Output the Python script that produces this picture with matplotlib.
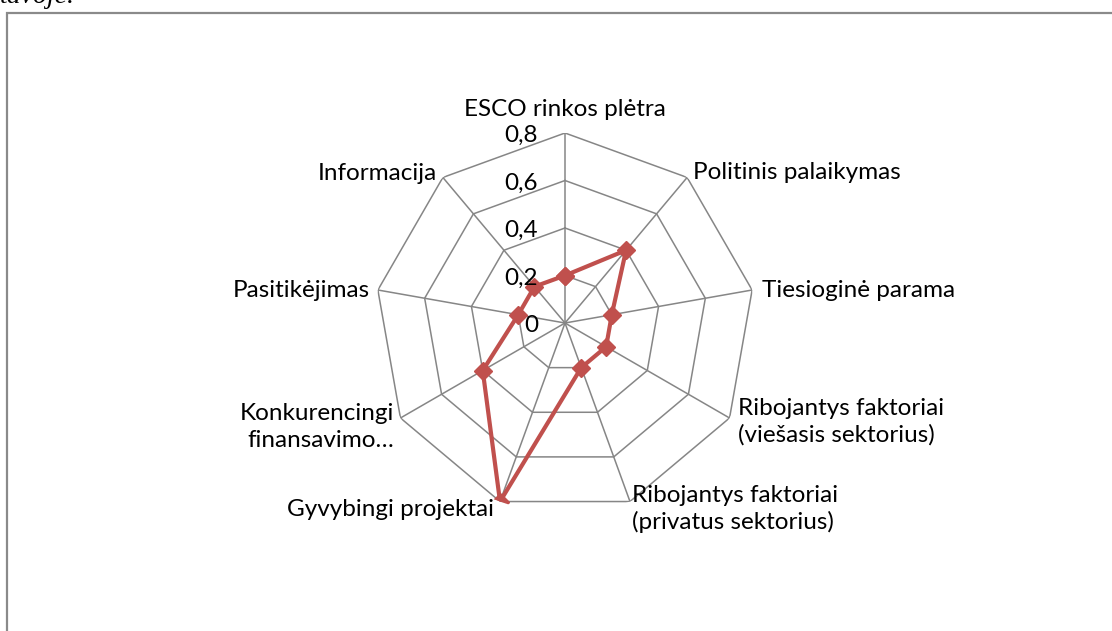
import numpy as np
import matplotlib
matplotlib.use("Agg")
import matplotlib.pyplot as plt
from matplotlib.patches import Rectangle

categories = ["ESCO rinkos plėtra", "Politinis palaikymas", "Tiesioginė parama",
              "Ribojantys faktoriai\n(viešasis sektorius)",
              "Ribojantys faktoriai\n(privatus sektorius)",
              "Gyvybingi projektai", "Konkurencingi\nfinansavimo…",
              "Pasitikėjimas", "Informacija"]
values = [0.2, 0.4, 0.2, 0.2, 0.2, 0.8, 0.4, 0.2, 0.2]
rticks = [0, 0.2, 0.4, 0.6, 0.8]
rtick_labels = ["0", "0,2", "0,4", "0,6", "0,8"]

FONT = "Lato"
FS = 17.5
grid_color = "#868686"
line_color = "#C0504D"

W, H = 1112, 631
fig = plt.figure(figsize=(W / 100, H / 100), dpi=100)

# outer border
fig.patches.append(Rectangle((7 / W, -0.2), 1.2, 1.2 - 12.5 / H, transform=fig.transFigure,
                             fill=False, edgecolor="#8a8a8a", linewidth=1.6))
fig.text(0 / W, 1 - 3 / H, "tavoje.", fontsize=20, family="Liberation Serif",
         style="italic", va="baseline", ha="left")

cx, cy, R = 565, 323, 190
ax = fig.add_axes([(cx - R) / W, (H - cy - R) / H, 2 * R / W, 2 * R / H], projection="polar")
ax.set_theta_zero_location("N")
ax.set_theta_direction(-1)
ax.set_ylim(0, 0.8)
ax.grid(False)
ax.spines["polar"].set_visible(False)
ax.set_xticks([])
ax.set_yticks([])
ax.patch.set_visible(False)

n = len(categories)
theta = np.arange(n) * 2 * np.pi / n
theta_c = np.append(theta, theta[0])

# polygon grid
for r in rticks[1:]:
    ax.plot(theta_c, [r] * (n + 1), color=grid_color, lw=1.1, zorder=1)
for t in theta:
    ax.plot([t, t], [0, 0.8], color=grid_color, lw=1.1, zorder=1)

# radial tick labels
for r, lab in zip(rticks, rtick_labels):
    ax.annotate(lab, xy=(0, r), xytext=(-27, -9), textcoords="offset pixels",
                ha="right", va="baseline", fontsize=FS, family=FONT, zorder=5)

# data
vals_c = values + [values[0]]
ax.plot(theta_c, vals_c, color=line_color, lw=3.0, marker="D", ms=9,
        markeredgecolor=line_color, markerfacecolor=line_color, zorder=4)

# category labels: (dx px, baseline dy px of first line, ha)
label_specs = [
    (0, 17, "center"),
    (6, -2, "left"),
    (10, -7, "left"),
    (8, 3, "left"),
    (2, 0, "left"),
    (-6, -14, "right"),
    (-6, -2, "right"),
    (-8, -7, "right"),
    (-6, -3, "right"),
]
LINE = 27
for t, lab, (dx, dy, ha) in zip(theta, categories, label_specs):
    for i, line in enumerate(lab.split("\n")):
        ax.annotate(line, xy=(t, 0.8), xytext=(dx, dy - i * LINE), textcoords="offset pixels",
                    ha=ha, va="baseline", fontsize=FS, family=FONT,
                    annotation_clip=False, zorder=5)

fig.savefig("out.png", dpi=100)
